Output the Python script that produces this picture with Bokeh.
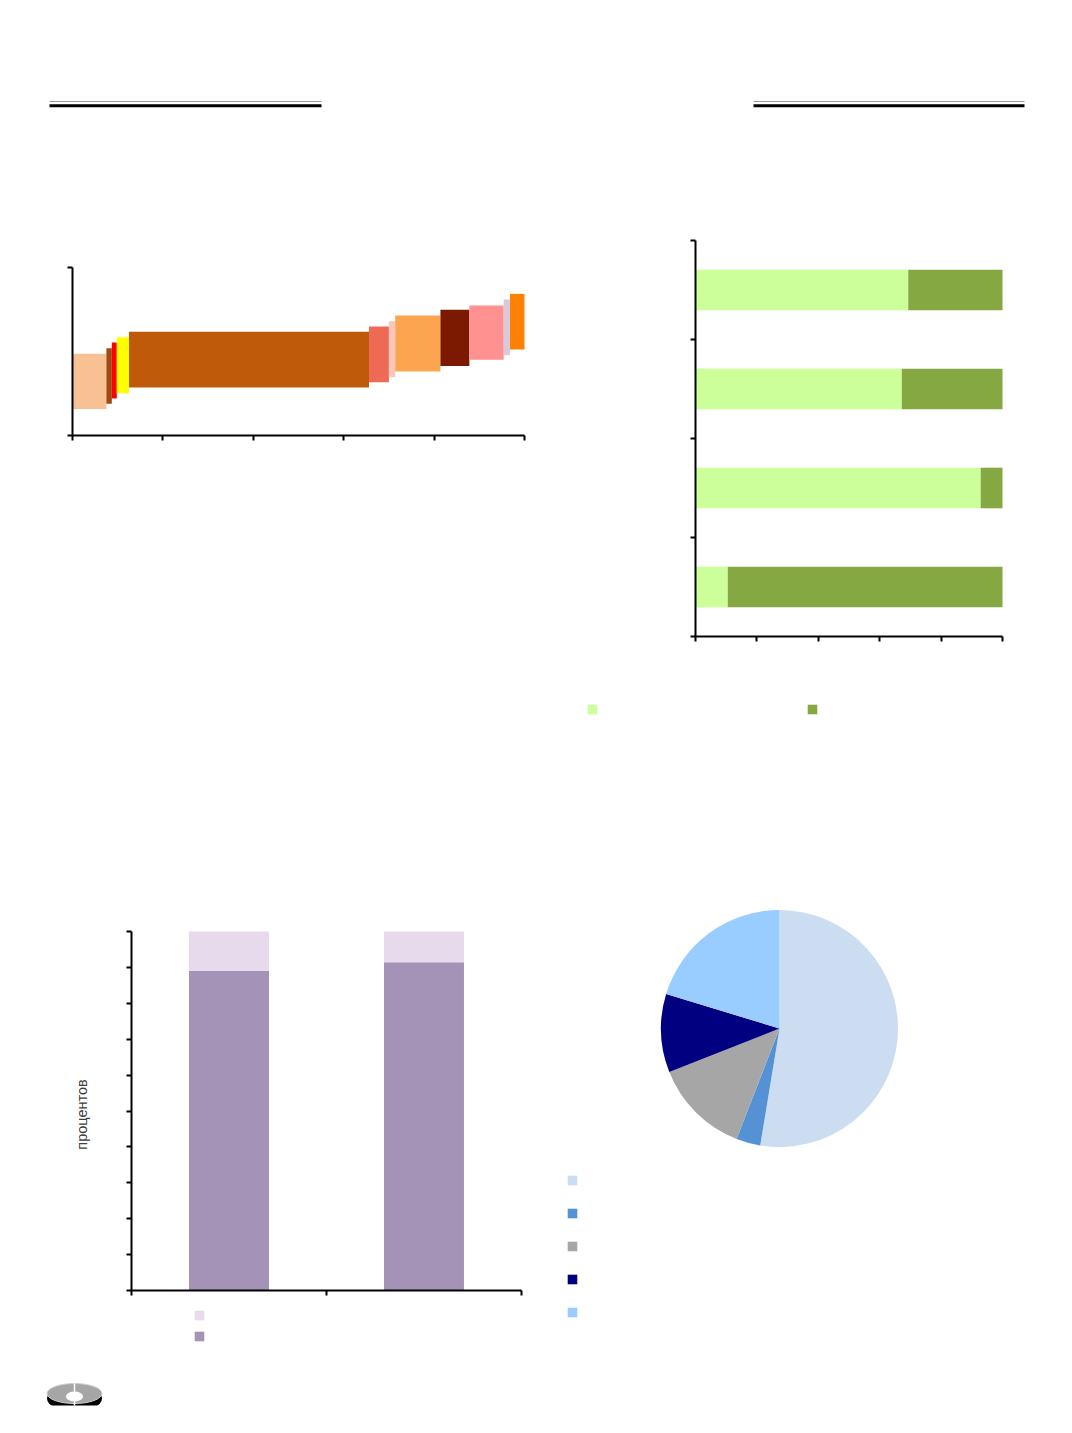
import numpy as np
from bokeh.plotting import figure
from bokeh.models import (Range1d, FixedTicker, CustomJSTickFormatter, Legend,
                          LegendItem, ColumnDataSource, Label)
from bokeh.layouts import column, row
from bokeh.embed import file_html
from bokeh.resources import INLINE
from bokeh.core.properties import value

# ---------------- data ----------------
# Chart 1: blocks (width along x, low/high along y)
c1_widths = [7.5, 1.2, 1.1, 2.7, 53.1, 4.4, 1.4, 10.0, 6.4, 7.6, 1.4, 3.2]
c1_low = [15.7, 18.9, 22.0, 25.2, 28.6, 31.7, 34.7, 38.1, 41.3, 45.1, 47.8, 51.2]
c1_high = [48.6, 52.0, 55.4, 58.5, 61.7, 64.9, 68.0, 71.4, 74.8, 77.4, 81.0, 84.3]

# Chart 2: 100% stacked horizontal bars (bottom to top)
c2_light = [10.5, 92.9, 67.2, 69.3]
c2_dark = [89.5, 7.1, 32.8, 30.7]

# Chart 3: 100% stacked vertical bars
c3_dark = [89.1, 91.4]
c3_light = [10.9, 8.6]
c3_ylabel = "процентов"

# Chart 4: pie shares (clockwise from 12 o'clock)
c4_shares = [52.6, 3.3, 13.1, 10.7, 20.3]

# ---------------- styles ----------------
c1_colors = ["#F8C194", "#9E4A12", "#FF0000", "#FFFF00", "#C05A0B", "#EE6A55",
             "#F9C6BE", "#FBA550", "#7B1A00", "#FF9191", "#D9C9DC", "#FF8101"]
c2_colors = ["#CCFF99", "#86A843"]
c3_colors = ["#E6DAEC", "#A492B7"]
c4_colors = ["#CCDDF2", "#5591D5", "#A6A6A6", "#000080", "#99CCFF"]

B = 20        # left / bottom border of chart figures (px)
G = 12        # legend glyph box (drawn square is 80% of it)
GI = G * 0.1  # inset of the drawn square inside the glyph box


def xr(frame_left, frame_right, px_zero, ppu):
    return Range1d((frame_left - px_zero) / ppu, (frame_right - px_zero) / ppu)


def yr(frame_top, frame_bottom, px_zero, ppu):
    return Range1d((px_zero - frame_bottom) / ppu, (px_zero - frame_top) / ppu)


def style_axes(p, xb, yb):
    for ax in p.axis:
        ax.axis_line_width = 2
        ax.axis_line_color = "black"
        ax.major_tick_line_width = 2
        ax.major_tick_line_color = "black"
        ax.major_tick_in = 0
        ax.major_tick_out = 5
        ax.minor_tick_line_color = None
        ax.formatter = CustomJSTickFormatter(code="return ''")
        ax.major_label_text_font_size = "1px"
        ax.major_label_standoff = 0
    p.xaxis.fixed_location = 0
    p.yaxis.fixed_location = 0
    p.xaxis.bounds = xb
    p.yaxis.bounds = yb
    p.grid.visible = False
    p.outline_line_color = None
    p.background_fill_color = "white"
    p.border_fill_color = "white"


def make_legend(items, frame_left, frame_bottom, sq_left, sq_top, orientation, step):
    """Legend whose first drawn square has its top-left corner at (sq_left, sq_top)."""
    n = len(items)
    spacing = int(round(step - G))
    height = G if orientation == "horizontal" else n * G + (n - 1) * spacing
    loc = (sq_left - GI - frame_left, frame_bottom - (sq_top - GI) - height)
    return Legend(items=items, location=loc, orientation=orientation,
                  glyph_width=G, glyph_height=G, label_width=0,
                  label_height=G, label_standoff=0, padding=0, margin=0,
                  spacing=spacing, border_line_color=None,
                  background_fill_alpha=0, label_text_font_size="1px")


def chart_fig(width, height, x_range, y_range, left=B):
    return figure(width=width, height=height, x_range=x_range, y_range=y_range,
                  output_backend="svg", toolbar_location=None,
                  min_border_left=left, min_border_right=0, min_border_top=0,
                  min_border_bottom=B)


# ---------------- header lines ----------------
hdr = figure(width=1064, height=200, x_range=Range1d(0, 1064),
             y_range=Range1d(200, 0), output_backend="svg",
             toolbar_location=None, min_border=0)
hdr.axis.visible = False
hdr.grid.visible = False
hdr.outline_line_color = None
for x0, x1 in [(49, 321), (753, 1024)]:
    hdr.segment(x0=[x0], y0=[101], x1=[x1], y1=[101], line_color="#9A9A9A", line_width=1)
    hdr.segment(x0=[x0], y0=[105.3], x1=[x1], y1=[105.3], line_color="black", line_width=3)

ROW1_TOP, ROW1_H = 200, 560
ROW2_TOP, ROW2_H = 760, 665
F1_BOTTOM = ROW1_TOP + ROW1_H - B
F3_BOTTOM = ROW2_TOP + ROW2_H - B

# ---------------- chart 1 ----------------
W1 = 560
c1_right = np.cumsum(c1_widths)
c1_left = np.concatenate([[0.0], c1_right[:-1]])
src1 = ColumnDataSource(dict(left=c1_left, right=c1_right, bottom=c1_low,
                             top=c1_high, color=c1_colors))
p1 = chart_fig(W1, ROW1_H, xr(B, W1, 72, 4.52), yr(ROW1_TOP, F1_BOTTOM, 435, 1.68))
p1.quad(left="left", right="right", bottom="bottom", top="top", fill_color="color",
        line_color=None, source=src1)
style_axes(p1, (0, 100), (0, 100))
p1.xaxis.ticker = FixedTicker(ticks=[0, 20, 40, 60, 80, 100])
p1.yaxis.ticker = FixedTicker(ticks=[0, 100])

# ---------------- chart 2 ----------------
W2 = 1064 - W1
n2 = len(c2_light)
c2_y = [i + 0.5 for i in range(n2)]
c2_rights_dark = [a + b for a, b in zip(c2_light, c2_dark)]
p2 = chart_fig(W2, ROW1_H, xr(W1 + B, 1064, 695, 3.07), yr(ROW1_TOP, F1_BOTTOM, 636, 99.0))
r2a = p2.hbar(y=c2_y, left=0, right=c2_light, height=0.41,
              fill_color=c2_colors[0], line_color=None)
r2b = p2.hbar(y=c2_y, left=c2_light, right=c2_rights_dark, height=0.41,
              fill_color=c2_colors[1], line_color=None)
style_axes(p2, (0, 100), (0, n2))
p2.xaxis.ticker = FixedTicker(ticks=[0, 20, 40, 60, 80, 100])
p2.yaxis.ticker = FixedTicker(ticks=list(range(n2 + 1)))
p2.add_layout(make_legend([LegendItem(label=value(""), renderers=[r2a]),
                           LegendItem(label=value(""), renderers=[r2b])],
                          W1 + B, F1_BOTTOM, 586.7, 704, "horizontal", 220))

# ---------------- chart 3 ----------------
W3 = 550
n3 = len(c3_dark)
c3_x = [i + 0.5 for i in range(n3)]
c3_tops = [a + b for a, b in zip(c3_dark, c3_light)]
p3 = chart_fig(W3, ROW2_H, xr(B, W3, 131, 195.0), yr(ROW2_TOP, F3_BOTTOM, 1290, 3.59))
p3.extra_x_ranges = {"px": Range1d(B, W3)}
p3.extra_y_ranges = {"px": Range1d(F3_BOTTOM, ROW2_TOP)}
r3d = p3.vbar(x=c3_x, bottom=0, top=c3_dark, width=0.41,
              fill_color=c3_colors[1], line_color=None)
r3l = p3.vbar(x=c3_x, bottom=c3_dark, top=c3_tops, width=0.41,
              fill_color=c3_colors[0], line_color=None)
style_axes(p3, (0, n3), (0, 100))
p3.xaxis.ticker = FixedTicker(ticks=list(range(n3 + 1)))
p3.yaxis.ticker = FixedTicker(ticks=list(range(0, 101, 10)))
p3.add_layout(Label(x=81.5, y=1114, x_range_name="px", y_range_name="px",
                    text=c3_ylabel, angle=np.pi / 2, text_align="center",
                    text_baseline="middle", text_font="Liberation Sans",
                    text_font_size="14.5px", text_color="#404040"))
p3.add_layout(make_legend([LegendItem(label=value(""), renderers=[r3l]),
                           LegendItem(label=value(""), renderers=[r3d])],
                          B, F3_BOTTOM, 194, 1310, "vertical", 21))
# emblem (bottom-left corner of the page)
p3.ellipse(x=[74], y=[1398], width=[55], height=[26], fill_color="black",
           line_color=None, x_range_name="px", y_range_name="px")
p3.ellipse(x=[74], y=[1393], width=[55], height=[20], fill_color="#A6A6A6",
           line_color="#D0D0D0", line_width=1, x_range_name="px", y_range_name="px")
p3.ellipse(x=[74], y=[1396], width=[17], height=[10], fill_color="white",
           line_color=None, x_range_name="px", y_range_name="px")
p3.segment(x0=[74], y0=[1383], x1=[74], y1=[1411], line_color="white", line_width=1.5,
           x_range_name="px", y_range_name="px")

# ---------------- chart 4 (pie) ----------------
W4 = 1064 - W3
fr = np.array(c4_shares) / sum(c4_shares)
cum = np.concatenate([[0.0], np.cumsum(fr)])
src4 = ColumnDataSource(dict(start=np.pi / 2 - cum[:-1] * 2 * np.pi,
                             end=np.pi / 2 - cum[1:] * 2 * np.pi,
                             color=c4_colors))
p4 = chart_fig(W4, ROW2_H, xr(W3, 1064, 779, 1.0), yr(ROW2_TOP, F3_BOTTOM, 1028, 1.0),
               left=0)
p4.axis.visible = False
p4.grid.visible = False
p4.outline_line_color = None
wr = p4.wedge(x=0, y=0, radius=118.5, start_angle="start", end_angle="end",
              direction="clock", fill_color="color", line_color=None, source=src4)
p4.add_layout(make_legend([LegendItem(label=value(""), renderers=[wr], index=i)
                           for i in range(len(c4_shares))],
                          W3, F3_BOTTOM, 566.7, 1175, "vertical", 33))

layout = column(hdr, row(p1, p2), row(p3, p4))
open("out.html", "w").write(file_html(layout, INLINE))
